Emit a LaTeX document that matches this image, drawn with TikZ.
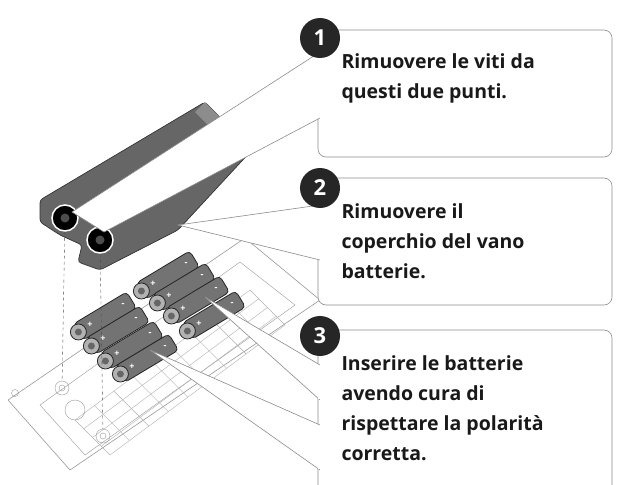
\documentclass[tikz,border=0pt]{standalone}
\usetikzlibrary{calc}
\usepackage{fontspec}
\setmainfont{Open Sans}
\begin{document}
\begin{tikzpicture}[x=1pt,y=-1pt,
  box/.style={fill=white,draw=black!45,line width=0.6pt,rounded corners=8pt},
  wedge/.style={fill=white,draw=black!45,line width=0.6pt},
  badge/.style={circle,fill=black!85,minimum size=40pt,inner sep=0pt,text=white,font=\bfseries\fontsize{22}{22}\selectfont},
  txt/.style={anchor=north west,align=left,font=\bfseries\fontsize{19.5}{30}\selectfont,text=black!90},
  bat/.style={fill=black!55,draw=black!85,line width=0.8pt,rounded corners=4pt},
  tray/.style={draw=black!40,line width=0.6pt,fill=white}]
\useasboundingbox (0,0) rectangle (617,484);
% tray
\path[tray] (8,400) -- (245,238) -- (320,300) -- (70,470) -- cycle;
\path[draw=black!40] (40,405) -- (240,262) -- (295,305) -- (85,455) -- cycle;
\foreach \i in {0,...,9}{
  \draw[black!30] ($(75,420)!\i/9!(250,290)$) -- ++(35,35);}
\foreach \j in {0,...,4}{
  \draw[black!30] ($(75,420)!\j/4!(110,455)$) -- ++(175,-130);}
\node[draw=black!40,circle,minimum size=14pt] (h1) at (62,388) {};
\node[draw=black!40,circle,minimum size=6pt,inner sep=0pt] at (62,388) {};
\node[draw=black!40,circle,minimum size=14pt] (h2) at (103,436) {};
\node[draw=black!40,circle,minimum size=6pt,inner sep=0pt] at (103,436) {};
\node[draw=black!40,circle,minimum size=20pt] at (75,410) {};
\node[draw=black!40,circle,minimum size=7pt,inner sep=0pt] at (15,393) {};
% batteries
\foreach \x/\y/\n in {168/275/1,184/287/2,198/300/3,214/315/4,105/316/5,118/330/6,132/345/7,147/358/8}{
  \draw[bat] ($(\x,\y)+(-31.5,7.9)$) -- ($(\x,\y)+(21.7,-24.1)$) -- ($(\x,\y)+(31.5,-7.9)$) -- ($(\x,\y)+(-21.7,24.1)$) -- cycle;
  \draw[fill=black!30,draw=black!85,line width=0.8pt] ($(\x,\y)+(-26.6,16)$) circle (8);
  \draw[fill=black!60,draw=none] ($(\x,\y)+(-26.6,16)$) circle (3.5);
  \node[text=white,font=\bfseries\small] at ($(\x,\y)+(-15,9)$) {+};
  \node[text=white,font=\bfseries\small] at ($(\x,\y)+(18,-11)$) {-};
}
% cover
\path[fill=black!60,draw=black!80,line width=0.7pt,rounded corners=3pt]
  (40,200) -- (205,102) -- (252,150) -- (178,230) -- (100,270) -- (78,262) -- (82,245) -- (60,235) -- (40,222) -- cycle;
\path[fill=black!45] (205,102) -- (252,150) -- (240,158) -- (195,112) -- cycle;
\node[circle,fill=black,draw=white,line width=1.5pt,minimum size=26pt] (s1) at (65,218) {};
\node[circle,fill=black!70,minimum size=9pt,inner sep=0pt] at (65,218) {};
\node[circle,fill=black,draw=white,line width=1.5pt,minimum size=26pt] (s2) at (100,240) {};
\node[circle,fill=black!70,minimum size=9pt,inner sep=0pt] at (100,240) {};
\draw[dashed,black!70] (s1) -- (h1);
\draw[dashed,black!70] (s2) -- (h2);
% boxes
\draw[box] (318,30) rectangle (612,157);
\draw[box] (318,178) rectangle (612,305);
\draw[box] (318,330) -- (612,330) -- (612,500) -- (318,500) -- cycle;
% wedges
\path[wedge] (320,52) -- (72,212) -- (104,232) -- (320,118);
\path[fill=white] (321,53) -- (321,117) -- (318,117) -- (318,53) -- cycle;
\path[wedge] (320,205) -- (178,225) -- (320,260);
\path[fill=white] (321,206) -- (321,259) -- (318,259) -- (318,206) -- cycle;
\path[wedge] (320,365) -- (205,297) -- (320,400);
\path[fill=white] (321,366) -- (321,399) -- (318,399) -- (318,366) -- cycle;
\path[wedge] (320,425) -- (150,350) -- (320,470);
\path[fill=white] (321,426) -- (321,469) -- (318,469) -- (318,426) -- cycle;
% badges
\node[badge] (b1) at (320,38) {1};
\node[badge] (b2) at (320,188) {2};
\node[badge] (b3) at (320,336) {3};
% texts
\node[txt] (t1) at (338,50) {Rimuovere le viti da\\questi due punti.};
\node[txt] (t2) at (338,200) {Rimuovere il\\coperchio del vano\\batterie.};
\node[txt] (t3) at (338,352) {Inserire le batterie\\avendo cura di\\rispettare la polarità\\corretta.};
\end{tikzpicture}
\end{document}
